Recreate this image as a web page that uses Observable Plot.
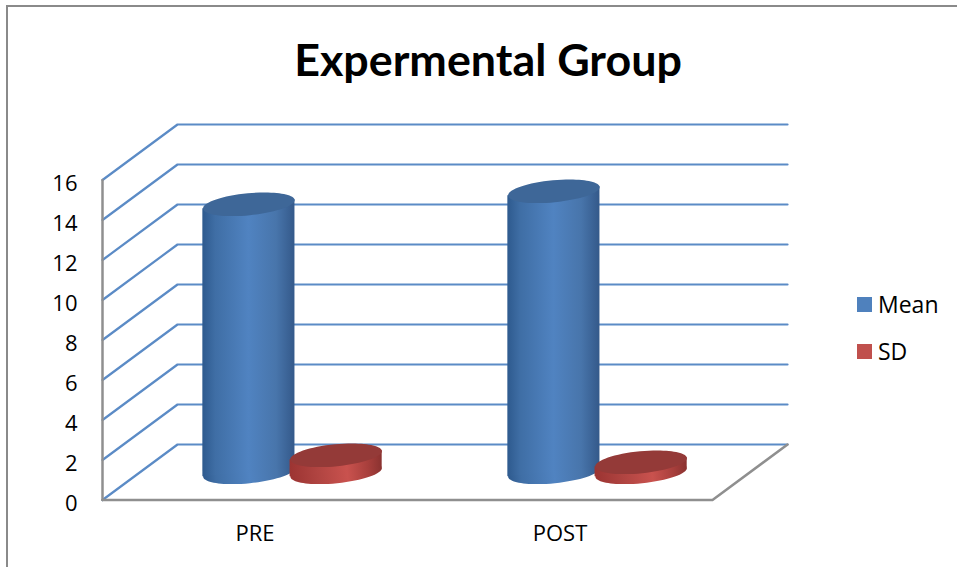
<!DOCTYPE html>
<html>
<head>
<meta charset="utf-8">
<title>Expermental Group</title>
<script src="https://cdn.jsdelivr.net/npm/d3@7"></script>
<script src="https://cdn.jsdelivr.net/npm/@observablehq/plot@0.6"></script>
<style>
  html, body { margin: 0; padding: 0; background: #fff; }
  #chart { position: relative; width: 957px; height: 567px; overflow: hidden; font-family: Lato, sans-serif; color: #000; }
  #frame { position: absolute; left: 6px; top: 5px; right: -4px; bottom: -4px; border: 2px solid #8a8a8a; box-sizing: border-box; }
  #title { position: absolute; left: 0; width: 976px; top: 35px; margin: 0; text-align: center; font-size: 44.8px; line-height: 48px; font-weight: 700; }
  #legend { position: absolute; left: 857px; top: 288px; font-family: "Open Sans", sans-serif; font-size: 23px; }
  #legend div { display: flex; align-items: center; height: 32px; margin-bottom: 15px; }
  #legend i { display: block; width: 15px; height: 15px; margin-right: 6px; }
  svg { display: block; }
</style>
</head>
<body>
<div id="chart">
  <div id="frame"></div>
  <h1 id="title">Expermental Group</h1>
  <div id="legend"></div>
</div>
<script>
const categories = ["PRE", "POST"];
const meanValues = [13.4, 14.05];
const sdValues = [0.85, 0.5];
const yTicks = [0, 2, 4, 6, 8, 10, 12, 14, 16];
const seriesNames = ["Mean", "SD"];
const seriesColors = ["#4f81bd", "#c0504d"];

// Oblique projection of the 3D box, in scale units
const depthX = 0.246;
const depthY = 2.775;
const barHalf = 0.151;
const barShift = 0.143;
const tilt = 0.22;
const baseLevel = depthY / 2;

const grid = yTicks.flatMap((v) => [
  {level: v, x: 0, y: v},
  {level: v, x: depthX, y: v + depthY},
  {level: v, x: categories.length + depthX, y: v + depthY}
]);

const floorEdge = [
  {x: 0, y: 0},
  {x: categories.length, y: 0},
  {x: categories.length + depthX, y: depthY}
];

const wallEdge = [{x: 0, y: 0}, {x: 0, y: 16}];

function cylinders(values, side) {
  return values.map((value, i) => ({
    cx: i + 0.5 + depthX / 2 + side * barShift,
    base: baseLevel,
    top: baseLevel + value
  }));
}

function bodyPoints(cyl) {
  return cyl.flatMap((c, id) => [
    {id, x: c.cx - barHalf, y1: c.base - tilt, y2: c.top - tilt},
    {id, x: c.cx + barHalf, y1: c.base + tilt, y2: c.top + tilt}
  ]);
}

// Flattened ellipse used as a dot symbol for the cylinder caps and feet
const ellipse = {
  draw(context, size) {
    const rx = Math.sqrt(size / Math.PI);
    const ry = rx * 0.24;
    const k = 0.5523;
    context.moveTo(-rx, 0);
    context.bezierCurveTo(-rx, -ry * k, -rx * k, -ry, 0, -ry);
    context.bezierCurveTo(rx * k, -ry, rx, -ry * k, rx, 0);
    context.bezierCurveTo(rx, ry * k, rx * k, ry, 0, ry);
    context.bezierCurveTo(-rx * k, ry, -rx, ry * k, -rx, 0);
    context.closePath();
  }
};

function cylinderMarks(cyl, body, cap) {
  const shared = {symbol: ellipse, r: 46, rotate: -5.5};
  return [
    Plot.dot(cyl, {...shared, x: "cx", y: "base", fill: body}),
    Plot.areaY(bodyPoints(cyl), {x: "x", y1: "y1", y2: "y2", z: "id", fill: body}),
    Plot.dot(cyl, {...shared, x: "cx", y: "top", fill: cap})
  ];
}

// Horizontal shading that gives the cylinders their roundness
function gradientDefs() {
  const ns = "http://www.w3.org/2000/svg";
  const defs = document.createElementNS(ns, "defs");
  const specs = {
    "mean-body": [[0, "#2e5a8e"], [0.14, "#3f6ea5"], [0.5, "#5083c1"], [0.8, "#4875ab"], [1, "#34598a"]],
    "sd-body": [[0, "#9c3432"], [0.3, "#b04441"], [0.62, "#c9524e"], [0.85, "#a83f3c"], [1, "#8a3230"]]
  };
  for (const [id, stops] of Object.entries(specs)) {
    const g = document.createElementNS(ns, "linearGradient");
    g.setAttribute("id", id);
    for (const [offset, color] of stops) {
      const s = document.createElementNS(ns, "stop");
      s.setAttribute("offset", offset);
      s.setAttribute("stop-color", color);
      g.appendChild(s);
    }
    defs.appendChild(g);
  }
  return defs;
}

const chart = Plot.plot({
  width: 957,
  height: 567,
  marginLeft: 102,
  marginRight: 245,
  marginTop: 179.5,
  marginBottom: 67.5,
  x: {domain: [0, categories.length], range: [102, 712]},
  y: {domain: [0, 16], range: [499.5, 179.5]},
  style: {background: "transparent", fontFamily: "'Open Sans', sans-serif", color: "#000", overflow: "visible"},
  marks: [
    gradientDefs,
    Plot.line(grid, {x: "x", y: "y", z: "level", stroke: "#5b8bc6", strokeWidth: 2.2, curve: "linear"}),
    Plot.line(wallEdge, {x: "x", y: "y", stroke: "#8f8f8f", strokeWidth: 2.5}),
    Plot.line(floorEdge, {x: "x", y: "y", stroke: "#8f8f8f", strokeWidth: 2.5}),
    ...cylinderMarks(cylinders(meanValues, -1), "url(#mean-body)", "#3e6798"),
    ...cylinderMarks(cylinders(sdValues, 1), "url(#sd-body)", "#943a38"),
    Plot.axisY({ticks: yTicks, tickSize: 0, tickPadding: 25, dy: 3.5, fontSize: 22, label: null, tickFormat: (d) => String(d)}),
    Plot.axisX({
      ticks: categories.map((_, i) => i + 0.5),
      tickFormat: (d) => categories[Math.floor(d)],
      tickSize: 0,
      tickPadding: 25,
      fontSize: 22,
      label: null
    })
  ]
});

document.getElementById("chart").appendChild(chart);

const legend = document.getElementById("legend");
seriesNames.forEach((name, i) => {
  const row = document.createElement("div");
  const swatch = document.createElement("i");
  swatch.style.background = seriesColors[i];
  row.appendChild(swatch);
  row.appendChild(document.createTextNode(name));
  legend.appendChild(row);
});
</script>
</body>
</html>
